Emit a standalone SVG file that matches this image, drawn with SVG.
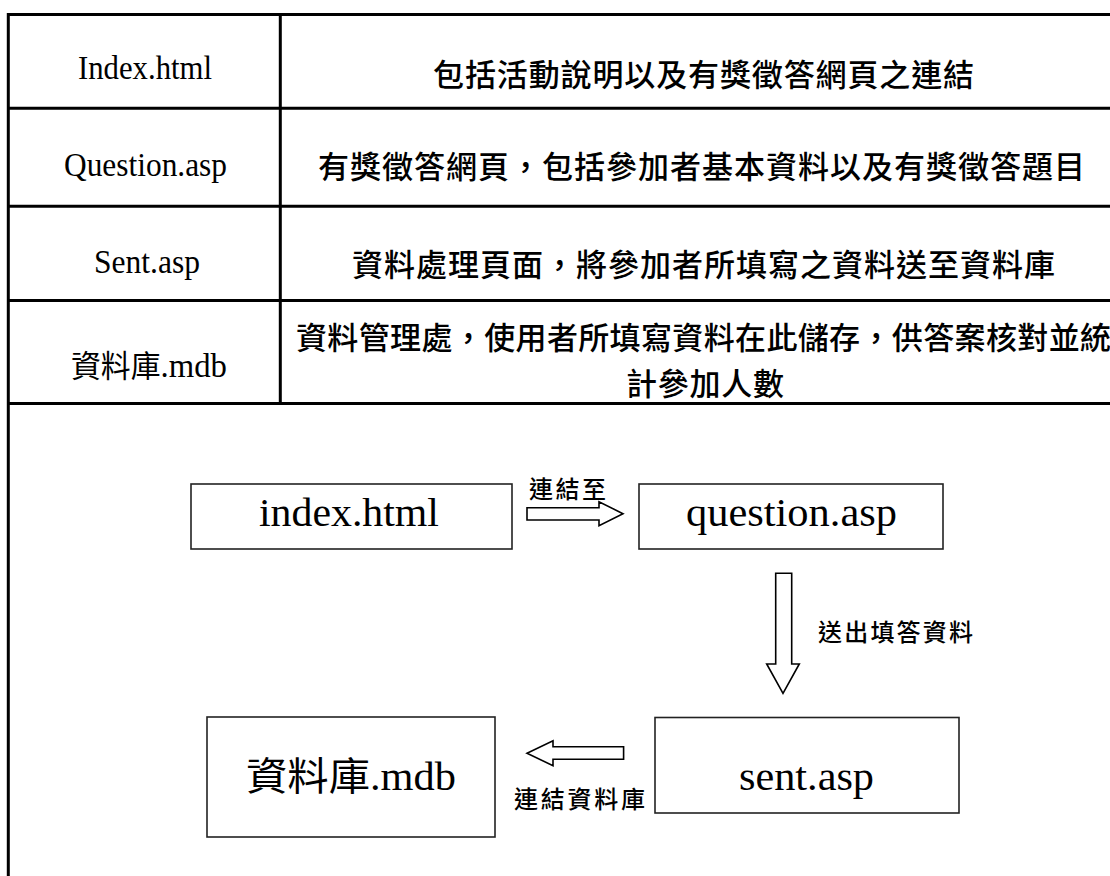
<svg xmlns="http://www.w3.org/2000/svg" width="1110" height="876" viewBox="0 0 1110 876">
  <style>
    .grid{stroke:#000;stroke-width:3;fill:none}
    .lat{font-family:"Liberation Serif","Times New Roman",serif;fill:#000}
    .cjk{font-family:"Noto Sans CJK TC","Noto Sans CJK SC",sans-serif;fill:#000;font-weight:500}
    .cjk-reg{font-family:"Noto Sans CJK TC","Noto Sans CJK SC",sans-serif;fill:#000;font-weight:400}
    .box{fill:#fff;stroke:#222;stroke-width:1.6}
    .arrow{fill:#fff;stroke:#000;stroke-width:1.6;stroke-linejoin:miter}
  </style>
  <rect width="1110" height="876" fill="#fff"/>

  <!-- page table: file list and descriptions -->
  <g id="table">
    <path class="grid" d="M8,14.5 H1112 M8.3,13 V876 M280.3,14.5 V404 M8,108.3 H1112 M8,206.2 H1112 M8,300.5 H1112 M8,403.5 H1112"/>
    <g id="row-index">
      <text class="lat" x="78" y="79" font-size="34" textLength="134" lengthAdjust="spacingAndGlyphs">Index.html</text>
      <text class="cjk" x="433" y="86" font-size="31" textLength="541">包括活動說明以及有獎徵答網頁之連結</text>
    </g>
    <g id="row-question">
      <text class="lat" x="64" y="176" font-size="34" textLength="163" lengthAdjust="spacingAndGlyphs">Question.asp</text>
      <text class="cjk" x="318" y="178" font-size="31" textLength="767">有獎徵答網頁，包括參加者基本資料以及有獎徵答題目</text>
    </g>
    <g id="row-sent">
      <text class="lat" x="94" y="273" font-size="34" textLength="106" lengthAdjust="spacingAndGlyphs">Sent.asp</text>
      <text class="cjk" x="352" y="276" font-size="31" textLength="703">資料處理頁面，將參加者所填寫之資料送至資料庫</text>
    </g>
    <g id="row-db">
      <text class="lat" x="71" y="377" font-size="34" textLength="156" lengthAdjust="spacingAndGlyphs"><tspan class="cjk-reg" font-size="31">資料庫</tspan>.mdb</text>
      <text class="cjk" x="296" y="349" font-size="31" textLength="815">資料管理處，使用者所填寫資料在此儲存，供答案核對並統</text>
      <text class="cjk" x="626" y="395" font-size="31" textLength="158">計參加人數</text>
    </g>
  </g>

  <!-- flow nodes -->
  <g id="node-index">
    <rect class="box" x="191" y="484" width="321" height="65"/>
    <text class="lat" x="259" y="526" font-size="40" textLength="180" lengthAdjust="spacingAndGlyphs">index.html</text>
  </g>
  <g id="node-question">
    <rect class="box" x="639" y="484" width="304" height="65"/>
    <text class="lat" x="686" y="526" font-size="40" textLength="211" lengthAdjust="spacingAndGlyphs">question.asp</text>
  </g>
  <g id="node-sent">
    <rect class="box" x="655" y="717.5" width="304" height="95.5"/>
    <text class="lat" x="739" y="790" font-size="40" textLength="135" lengthAdjust="spacingAndGlyphs">sent.asp</text>
  </g>
  <g id="node-db">
    <rect class="box" x="207" y="717" width="288" height="120"/>
    <text class="lat" x="246" y="790" font-size="40" textLength="210" lengthAdjust="spacingAndGlyphs"><tspan class="cjk-reg" font-size="39">資料庫</tspan>.mdb</text>
  </g>

  <!-- block arrows with their labels -->
  <g id="connectors">
    <polygon class="arrow" points="527,507.7 599,507.7 599,501.7 623,513.7 599,525.7 599,520 527,520"/>
    <text class="cjk" x="529" y="498" font-size="24" textLength="77">連結至</text>
    <polygon class="arrow" points="775.7,573.3 791.7,573.3 791.7,664 799.3,664 783,693.3 766.7,664 775.7,664"/>
    <text class="cjk" x="818" y="641" font-size="24" textLength="155">送出填答資料</text>
    <polygon class="arrow" points="623.6,746.7 553,746.7 553,740.7 527,753.2 553,765.7 553,759.3 623.6,759.3"/>
    <text class="cjk" x="514" y="808" font-size="24" textLength="131">連結資料庫</text>
  </g>
</svg>
